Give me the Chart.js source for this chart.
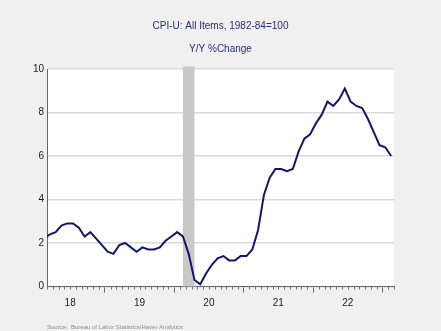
<!DOCTYPE html>
<html>
<head>
<meta charset="utf-8">
<script src="https://cdn.jsdelivr.net/npm/chart.js@4.4.1/dist/chart.umd.min.js"></script>
<style>
  html, body { margin: 0; padding: 0; background: #f0f0f0; }
  #wrap { width: 441px; height: 331px; position: relative; }
</style>
</head>
<body>
<div id="wrap"><canvas id="cpiChart"></canvas></div>
<script>
// monthly observations, CPI-U all items, Y/Y % change
const months = [
  '2018-02','2018-03','2018-04','2018-05','2018-06','2018-07','2018-08','2018-09','2018-10','2018-11','2018-12',
  '2019-01','2019-02','2019-03','2019-04','2019-05','2019-06','2019-07','2019-08','2019-09','2019-10','2019-11','2019-12',
  '2020-01','2020-02','2020-03','2020-04','2020-05','2020-06','2020-07','2020-08','2020-09','2020-10','2020-11','2020-12',
  '2021-01','2021-02','2021-03','2021-04','2021-05','2021-06','2021-07','2021-08','2021-09','2021-10','2021-11','2021-12',
  '2022-01','2022-02','2022-03','2022-04','2022-05','2022-06','2022-07','2022-08','2022-09','2022-10','2022-11','2022-12',
  '2023-01','2023-02'
];
const cpiYoY = [
  2.2, 2.4, 2.5, 2.8, 2.9, 2.9, 2.7, 2.3, 2.5, 2.2, 1.9,
  1.6, 1.5, 1.9, 2.0, 1.8, 1.6, 1.8, 1.7, 1.7, 1.8, 2.1, 2.3,
  2.5, 2.3, 1.5, 0.3, 0.1, 0.6, 1.0, 1.3, 1.4, 1.2, 1.2, 1.4,
  1.4, 1.7, 2.6, 4.2, 5.0, 5.4, 5.4, 5.3, 5.4, 6.2, 6.8, 7.0,
  7.5, 7.9, 8.5, 8.3, 8.6, 9.1, 8.5, 8.3, 8.2, 7.7, 7.1, 6.5,
  6.4, 6.0
];
const yearLabels = ['18', '19', '20', '21', '22'];
const yTicks = [0, 2, 4, 6, 8, 10];
const recession = ['2020-02', '2020-04'];

const FONT = "'Liberation Sans', Arial, sans-serif";

// months since Jan 2018
function toPos(s) {
  const [y, m] = s.split('-').map(Number);
  return (y - 2018) * 12 + (m - 1);
}

const points = cpiYoY.map((v, i) => ({ x: toPos(months[i]) + 0.5, y: v }));

const framePlugin = {
  id: 'frame',
  beforeDraw(chart) {
    const { ctx, chartArea: a } = chart;
    ctx.save();
    ctx.fillStyle = '#f0f0f0';
    ctx.fillRect(0, 0, chart.width, chart.height);
    ctx.fillStyle = '#ffffff';
    ctx.fillRect(a.left, a.top - 1, a.right - a.left, a.bottom - a.top + 1);
    ctx.restore();
  },
  beforeDatasetsDraw(chart) {
    const { ctx, chartArea: a, scales } = chart;
    const x0 = scales.x.getPixelForValue(toPos(recession[0]) + 0.5);
    const x1 = scales.x.getPixelForValue(toPos(recession[1]) + 0.5);
    ctx.save();
    ctx.fillStyle = '#c8c8c8';
    ctx.fillRect(x0, a.top - 2.5, x1 - x0, a.bottom - a.top + 2.5);
    ctx.restore();
  },
  afterDraw(chart) {
    const { ctx, chartArea: a, scales } = chart;
    const xs = scales.x;
    ctx.save();
    // minor month ticks
    ctx.strokeStyle = '#777';
    ctx.lineWidth = 1;
    for (let m = Math.ceil(xs.min); m <= xs.max; m++) {
      if (m % 12 === 0) continue;
      const px = Math.round(xs.getPixelForValue(m)) + 0.5;
      ctx.beginPath();
      ctx.moveTo(px, a.bottom);
      ctx.lineTo(px, a.bottom + 3);
      ctx.stroke();
    }
    ctx.fillStyle = '#8a8a8a';
    ctx.font = '6px ' + FONT;
    ctx.textBaseline = 'middle';
    ctx.fillText('Source:  Bureau of Labor Statistics/Haver Analytics', a.left, 327);
    ctx.restore();
  }
};

const ctx = document.getElementById('cpiChart').getContext('2d');
const cpiChart = new Chart(ctx, {
  type: 'line',
  data: {
    datasets: [{
      label: 'CPI-U Y/Y',
      data: points,
      borderColor: '#15156e',
      borderWidth: 2,
      pointRadius: 0,
      tension: 0,
      fill: false
    }]
  },
  options: {
    responsive: true,
    maintainAspectRatio: false,
    animation: false,
    layout: { padding: { left: 0, right: 0, top: 0, bottom: 8 } },
    plugins: {
      legend: { display: false },
      tooltip: { enabled: false },
      title: {
        display: true,
        text: ['CPI-U: All Items, 1982-84=100', 'Y/Y %Change'],
        color: '#2b2b78',
        font: { family: FONT, size: 10, weight: 'normal', lineHeight: 2.3 },
        padding: { top: 14.5, bottom: 8.5 }
      }
    },
    scales: {
      x: {
        type: 'linear',
        min: 2,   // start of Mar 2018
        max: 62,  // start of Mar 2023
        afterBuildTicks: (scale) => {
          const t = [];
          for (let v = 6; v < 62; v += 6) t.push({ value: v });
          scale.ticks = t;
        },
        afterFit: (scale) => { scale.height = 36.5; },
        grid: {
          drawOnChartArea: false,
          tickLength: 6,
          tickColor: (c) => (c.tick && c.tick.value % 12 === 0) ? '#666' : 'rgba(0,0,0,0)'
        },
        border: { display: true, color: '#666', width: 1 },
        ticks: {
          autoSkip: false,
          maxRotation: 0,
          padding: 4.5,
          color: '#1a1a1a',
          font: { family: FONT, size: 10 },
          callback: (v) => (v % 12 === 6) ? yearLabels[(v - 6) / 12] : ''
        }
      },
      y: {
        min: 0,
        max: 10,
        afterBuildTicks: (scale) => { scale.ticks = yTicks.map(v => ({ value: v })); },
        afterFit: (scale) => { scale.width = 47; },
        grid: { color: '#d9d9d9', lineWidth: 1.5, drawTicks: false },
        border: { display: true, color: '#666', width: 1 },
        ticks: {
          padding: 3,
          color: '#1a1a1a',
          font: { family: FONT, size: 10 }
        }
      },
      // empty right-hand margin so the title centres on the whole canvas
      yRight: {
        position: 'right',
        min: 0,
        max: 10,
        afterFit: (scale) => { scale.width = 47; },
        grid: { display: false, drawTicks: false },
        border: { display: false },
        ticks: { display: false }
      }
    }
  },
  plugins: [framePlugin]
});
</script>
</body>
</html>
